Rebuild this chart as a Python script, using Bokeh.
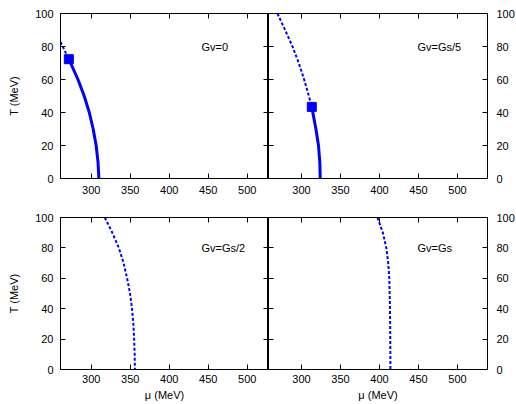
from bokeh.plotting import figure
from bokeh.layouts import gridplot
from bokeh.models import Range1d, LinearAxis, FixedTicker, Label, CustomJSTickFormatter
from bokeh.embed import file_html
from bokeh.resources import INLINE

FONT = "Liberation Sans"

# Phase boundary data, mu (MeV) vs T (MeV)
# Gv = 0: crossover (dashed) above the critical end point, first order (solid) below
gv0_cross_mu = [260.6, 266.0, 271.3]
gv0_cross_T = [82.8, 77.5, 72.3]
gv0_first_mu = [271.3, 283.0, 291.0, 297.5, 302.5, 306.3, 308.7, 309.8]
gv0_first_T = [72.3, 60.0, 50.0, 40.0, 30.0, 20.0, 10.0, 0.0]
gv0_cep = (271.3, 72.3)

# Gv = Gs/5
gv5_cross_mu = [269.2, 279.0, 288.5, 296.5, 303.4, 309.5, 313.2]
gv5_cross_T = [100.0, 90.0, 80.0, 70.0, 60.0, 50.0, 43.4]
gv5_first_mu = [313.2, 318.5, 321.8, 323.5, 324.0]
gv5_first_T = [43.4, 30.0, 20.0, 10.0, 0.0]
gv5_cep = (313.2, 43.4)

# Gv = Gs/2: crossover only
gv2_cross_mu = [317.4, 327.0, 335.4, 341.5, 346.0, 349.8, 352.3, 354.0, 355.0, 355.7, 356.0]
gv2_cross_T = [100.0, 90.0, 80.0, 70.0, 60.0, 50.0, 40.0, 30.0, 20.0, 10.0, 0.0]

# Gv = Gs: crossover only
gv1_cross_mu = [397.4, 404.3, 408.8, 411.2, 412.6, 413.3, 413.7, 413.9, 414.0]
gv1_cross_T = [100.0, 90.0, 80.0, 70.0, 60.0, 45.0, 30.0, 15.0, 0.0]

x_ticks = [300, 350, 400, 450, 500]
y_ticks = [0, 20, 40, 60, 80, 100]

BLUE = "#0000ff"


def make_axis(ticks, labelled, title=None, label_standoff=7, title_standoff=8):
    ax = LinearAxis(ticker=FixedTicker(ticks=ticks))
    ax.major_tick_in = 5
    ax.major_tick_out = 0
    ax.minor_tick_in = 0
    ax.minor_tick_out = 0
    ax.axis_line_color = "black"
    ax.major_tick_line_color = "black"
    ax.major_label_text_font = FONT
    ax.major_label_text_color = "black"
    if labelled:
        ax.major_label_text_font_size = "11px"
        ax.major_label_standoff = label_standoff
    else:
        # mirrored tick marks only
        ax.formatter = CustomJSTickFormatter(code="return ''")
        ax.major_label_text_font_size = "1px"
        ax.major_label_standoff = 0
    if title:
        ax.axis_label = title
        ax.axis_label_text_font = FONT
        ax.axis_label_text_font_size = "11px"
        ax.axis_label_text_font_style = "normal"
        ax.axis_label_text_color = "black"
        ax.axis_label_standoff = title_standoff
    return ax


def panel(xr, fw, fh, borders, left_labels, xtitle, ytitle, xstand):
    bl, br, bt, bb = borders
    p = figure(frame_width=fw, frame_height=fh,
               x_range=Range1d(*xr), y_range=Range1d(0, 100),
               x_axis_location=None, y_axis_location=None,
               min_border_left=bl, min_border_right=br,
               min_border_top=bt, min_border_bottom=bb,
               output_backend="svg", toolbar_location=None)
    p.grid.grid_line_color = None
    p.outline_line_color = "black"
    p.outline_line_width = 1
    p.background_fill_color = "white"
    p.border_fill_color = "white"
    p.add_layout(make_axis(x_ticks, True, xtitle, label_standoff=xstand,
                           title_standoff=3), "below")
    p.add_layout(make_axis(x_ticks, False), "above")
    if left_labels:
        p.add_layout(make_axis(y_ticks, True, ytitle, label_standoff=7,
                               title_standoff=12), "left")
        p.add_layout(make_axis(y_ticks, False), "right")
    else:
        p.add_layout(make_axis(y_ticks, False), "left")
        p.add_layout(make_axis(y_ticks, True, None, label_standoff=9), "right")
    return p


def title_label(p, x, text):
    p.add_layout(Label(x=x, y=80, text=text, text_font=FONT,
                       text_font_size="11px", text_color="black",
                       text_align="left", text_baseline="middle"))


LEFT_X = (260.6, 527.3)
RIGHT_X = (257.7, 538.5)
MU = "\u03bc (MeV)"
TT = "T (MeV)"

p1 = panel(LEFT_X, 208, 165, (60, 0, 13, 26), True, None, TT, 7)
p1.line(gv0_cross_mu, gv0_cross_T, line_color=BLUE, line_width=2, line_dash="3 2")
p1.line(gv0_first_mu, gv0_first_T, line_color=BLUE, line_width=3)
p1.scatter([gv0_cep[0]], [gv0_cep[1]], marker="square", size=9, color=BLUE)
title_label(p1, 441.4, "Gv=0")

p2 = panel(RIGHT_X, 219, 165, (0, 29, 13, 26), False, None, None, 7)
p2.line(gv5_cross_mu, gv5_cross_T, line_color=BLUE, line_width=2, line_dash="3 2")
p2.line(gv5_first_mu, gv5_first_T, line_color=BLUE, line_width=3)
p2.scatter([gv5_cep[0]], [gv5_cep[1]], marker="square", size=9, color=BLUE)
title_label(p2, 448.7, "Gv=Gs/5")

p3 = panel(LEFT_X, 208, 152, (60, 0, 13, 35), True, MU, TT, 5)
p3.line(gv2_cross_mu, gv2_cross_T, line_color=BLUE, line_width=2, line_dash="3 2")
title_label(p3, 441.4, "Gv=Gs/2")

p4 = panel(RIGHT_X, 219, 152, (0, 29, 13, 35), False, MU, None, 5)
p4.line(gv1_cross_mu, gv1_cross_T, line_color=BLUE, line_width=2, line_dash="3 2")
title_label(p4, 448.7, "Gv=Gs")

grid = gridplot([[p1, p2], [p3, p4]], toolbar_location=None)

open("out.html", "w").write(file_html(grid, INLINE))
